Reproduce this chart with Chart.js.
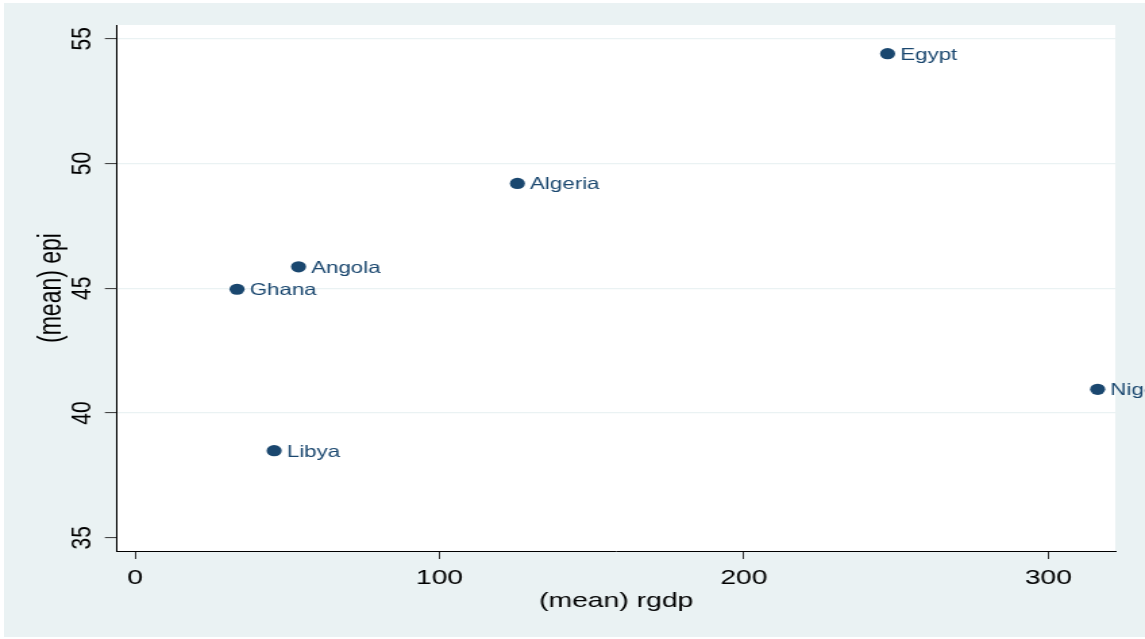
<!DOCTYPE html>
<html>
<head>
<meta charset="utf-8">
<script src="https://cdn.jsdelivr.net/npm/chart.js@4.4.1/dist/chart.umd.min.js"></script>
<style>
  html, body { margin: 0; padding: 0; background: #ffffff; overflow: hidden; }
  #wrap { position: absolute; left: 4px; top: 3px; transform: scaleX(1.3503); transform-origin: 0 0; }
</style>
</head>
<body>
<div id="wrap"><canvas id="chart" width="845" height="634"></canvas></div>
<script>
// datos
const countries = ['Egypt', 'Algeria', 'Angola', 'Ghana', 'Libya', 'Nigeria'];
const rgdp = [247.2, 125.6, 53.7, 33.5, 45.7, 316.2];
const epi = [54.4, 49.2, 45.86, 44.96, 38.49, 40.95];
const xTicks = [0, 100, 200, 300];
const yTicks = [35, 40, 45, 50, 55];

const navy = '#1a476f';
const bgColor = '#eaf2f3';
const fontFam = '"Liberation Sans", Arial, sans-serif';

// fondo de Stata + area blanca
const bgPlugin = {
    id: 'bg',
    beforeDraw(chart) {
        const { ctx, chartArea: a } = chart;
        ctx.save();
        ctx.fillStyle = bgColor;
        ctx.fillRect(0, 0, chart.width, chart.height);
        ctx.fillStyle = '#ffffff';
        ctx.fillRect(a.left, a.top, a.right - a.left, a.bottom - a.top);
        ctx.restore();
    }
};

// etiquetas de cada punto
const labelPlugin = {
    id: 'pointLabels',
    afterDatasetsDraw(chart) {
        const { ctx } = chart;
        const meta = chart.getDatasetMeta(0);
        ctx.save();
        ctx.fillStyle = navy;
        ctx.font = '16.5px ' + fontFam;
        ctx.textAlign = 'left';
        ctx.textBaseline = 'middle';
        meta.data.forEach((pt, i) => {
            ctx.fillText(countries[i], pt.x + 9.4, pt.y + 1.5);
        });
        ctx.restore();
    }
};

const ctx = document.getElementById('chart').getContext('2d');
new Chart(ctx, {
    type: 'scatter',
    data: {
        datasets: [{
            data: rgdp.map((v, i) => ({ x: v, y: epi[i] })),
            backgroundColor: navy,
            borderWidth: 0,
            pointRadius: 5.6,
            pointHoverRadius: 5.6
        }]
    },
    options: {
        responsive: false,
        animation: false,
        events: [],
        layout: { padding: { top: 22, right: 22, left: 0, bottom: 0 } },
        plugins: { legend: { display: false }, tooltip: { enabled: false } },
        scales: {
            x: {
                min: -5.92,
                max: 322,
                afterBuildTicks: s => { s.ticks = xTicks.map(v => ({ value: v })); },
                afterFit: s => { s.height = 86; },
                grid: { drawOnChartArea: false, tickLength: 8, tickColor: '#333', tickWidth: 1 },
                border: { color: '#000', width: 1 },
                ticks: { color: '#000', font: { family: fontFam, size: 21 }, padding: 6.5, maxRotation: 0 },
                title: { display: true, text: '(mean) rgdp', color: '#000', font: { family: fontFam, size: 21 }, padding: { top: 0, bottom: 23 } }
            },
            y: {
                min: 34.47,
                max: 55.55,
                afterBuildTicks: s => { s.ticks = yTicks.map(v => ({ value: v })); },
                afterFit: s => { s.width = 83.7; },
                grid: {
                    color: c => (c.tick && c.tick.value === 35) ? 'rgba(0,0,0,0)' : bgColor,
                    lineWidth: 1.2,
                    tickLength: 9,
                    tickColor: '#333',
                    tickWidth: 1
                },
                border: { color: '#000', width: 1 },
                ticks: { color: '#000', font: { family: fontFam, size: 21 }, padding: 4.5, minRotation: 90, maxRotation: 90, crossAlign: 'center' },
                title: { display: true, text: '(mean) epi', color: '#000', font: { family: fontFam, size: 23 }, padding: { top: 22, bottom: 0 } }
            }
        }
    },
    plugins: [bgPlugin, labelPlugin]
});
</script>
</body>
</html>
